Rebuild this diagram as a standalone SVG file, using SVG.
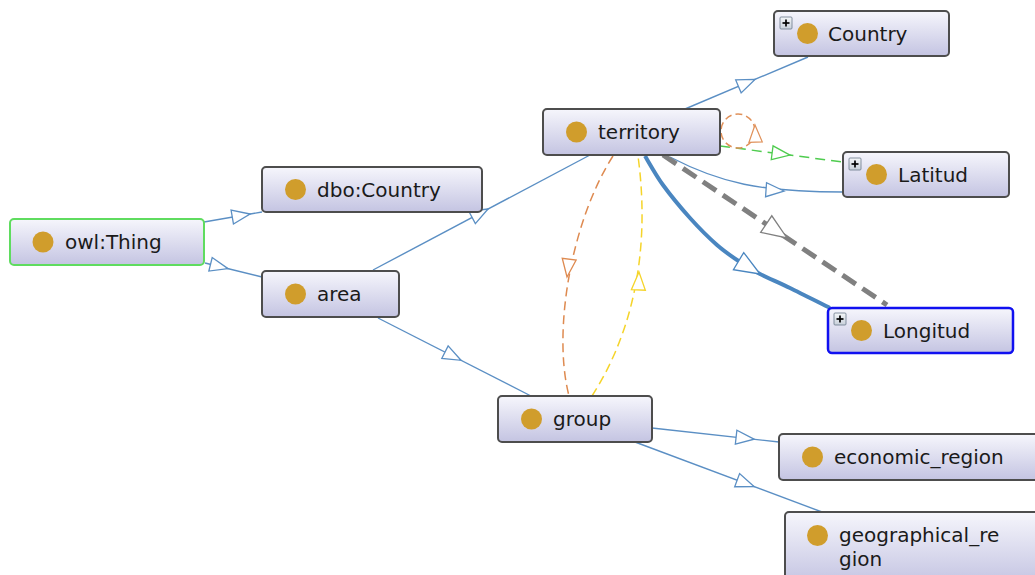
<svg xmlns="http://www.w3.org/2000/svg" xmlns:xlink="http://www.w3.org/1999/xlink" width="1035" height="575" viewBox="0 0 1035 575">
<style>
.box{fill:url(#ng);stroke:#4d4d4d;stroke-width:2}
.dot{fill:#d09d2c}
.lbl{font-family:"DejaVu Sans",sans-serif;font-size:20px;fill:#1a1a1a}
.e{fill:none;stroke:#5b8fc4;stroke-width:1.4}
.ah{fill:#ffffff;stroke-width:1.3}
.pb{fill:url(#pg);stroke:#6a7a8a;stroke-width:0.8}
.pl{stroke:#000;stroke-width:1.7}
</style>
<defs>
<linearGradient id="ng" x1="0" y1="0" x2="0" y2="1">
<stop offset="0" stop-color="#f6f6fc"/>
<stop offset="1" stop-color="#c4c4e2"/>
</linearGradient>
<linearGradient id="pg" x1="0" y1="0" x2="0" y2="1">
<stop offset="0" stop-color="#f4f6f8"/>
<stop offset="1" stop-color="#c8d0da"/>
</linearGradient>
<path id="tri" d="M0,0 L-18,-7 L-18,7 Z"/>
<path id="trib" d="M0,0 L-25,-10 L-25,10 Z"/>
<g id="plus">
<rect class="pb" x="0" y="0" width="12" height="12" rx="1"/>
<line class="pl" x1="2.5" y1="6" x2="9.5" y2="6"/>
<line class="pl" x1="6" y1="2.5" x2="6" y2="9.5"/>
</g>
</defs>
<rect width="1035" height="575" fill="#ffffff"/>

<g id="connectors">
<!-- owl:Thing -> dbo:Country -->
<line class="e" x1="204" y1="222" x2="262" y2="212"/>
<use xlink:href="#tri" class="ah" stroke="#5b8fc4" transform="translate(250,214) rotate(-9.8)"/>
<!-- owl:Thing -> area -->
<line class="e" x1="205" y1="263" x2="262" y2="277"/>
<use xlink:href="#tri" class="ah" stroke="#5b8fc4" transform="translate(228,268.6) rotate(13.8)"/>
<!-- area -> territory -->
<line class="e" x1="373" y1="270" x2="590" y2="155"/>
<use xlink:href="#tri" class="ah" stroke="#5b8fc4" transform="translate(488,209) rotate(-27.9)"/>
<!-- territory -> Country -->
<line class="e" x1="685" y1="109" x2="808" y2="57"/>
<use xlink:href="#tri" class="ah" stroke="#5b8fc4" transform="translate(755,79.4) rotate(-22.9)"/>
<!-- territory -> Latitud (curve) -->
<path class="e" d="M670,157 C720,183 760,192 843,192"/>
<use xlink:href="#tri" class="ah" stroke="#5b8fc4" transform="translate(784,191) rotate(4)"/>
<!-- green dashed territory -> Latitud -->
<line x1="720" y1="146" x2="843" y2="162" fill="none" stroke="#4fcc4f" stroke-width="1.5" stroke-dasharray="10,6"/>
<use xlink:href="#tri" class="ah" stroke="#4fcc4f" transform="translate(790,155.1) rotate(7.4)"/>
<!-- orange self loop -->
<circle cx="738" cy="131" r="17" fill="none" stroke="#e0915a" stroke-width="1.5" stroke-dasharray="7,4"/>
<use xlink:href="#tri" class="ah" stroke="#e0915a" transform="translate(755,125) rotate(-92) scale(0.95)"/>
<!-- orange dashed territory -> group -->
<path d="M613,156 C572,220 552,330 569,396" fill="none" stroke="#de8a50" stroke-width="1.5" stroke-dasharray="9,5"/>
<use xlink:href="#tri" class="ah" stroke="#de8a50" transform="translate(567,277) rotate(97)"/>
<!-- yellow dashed group -> territory -->
<path d="M592,396 C628,340 652,260 638,156" fill="none" stroke="#f5d42a" stroke-width="1.5" stroke-dasharray="9,5"/>
<use xlink:href="#tri" class="ah" stroke="#f5d42a" transform="translate(639,272) rotate(-88)"/>
<!-- thick blue territory -> Longitud -->
<path d="M645,156 C648,160.8 655.5,174.7 663,185 C670.5,195.3 681,208 690,218 C699,228 708.7,237.7 717,245 C725.3,252.3 732.8,257.2 740,262 C747.2,266.8 751.7,269.7 760,274 C768.3,278.3 778.3,282.3 790,288 C801.7,293.7 823.3,304.7 830,308" fill="none" stroke="#4a86c0" stroke-width="4"/>
<use xlink:href="#trib" class="ah" stroke="#4a86c0" transform="translate(760,274) rotate(31)"/>
<!-- gray dashed territory -> Longitud -->
<line x1="663" y1="155" x2="887" y2="305" fill="none" stroke="#808080" stroke-width="5" stroke-dasharray="16,8"/>
<use xlink:href="#trib" class="ah" stroke="#808080" transform="translate(787,238) rotate(33.8)"/>
<!-- area -> group -->
<line class="e" x1="378" y1="318" x2="531" y2="396"/>
<use xlink:href="#tri" class="ah" stroke="#5b8fc4" transform="translate(461,360.3) rotate(27)"/>
<!-- group -> economic_region -->
<line class="e" x1="652" y1="428" x2="779" y2="442"/>
<use xlink:href="#tri" class="ah" stroke="#5b8fc4" transform="translate(754,439.2) rotate(6.3)"/>
<!-- group -> geographical_region -->
<line class="e" x1="635" y1="442" x2="822" y2="512"/>
<use xlink:href="#tri" class="ah" stroke="#5b8fc4" transform="translate(754,486.5) rotate(20.5)"/>
</g>

<g id="owl-thing">
<rect class="box" x="10" y="219" width="194" height="46" rx="4" style="stroke:#5fdc5f"/>
<circle class="dot" cx="43" cy="242" r="10.5"/>
<text class="lbl" x="65" y="249">owl:Thing</text>
</g>
<g id="dbo-country">
<rect class="box" x="262" y="167" width="220" height="45" rx="4"/>
<circle class="dot" cx="295.5" cy="189.5" r="10.5"/>
<text class="lbl" x="317" y="196.5">dbo:Country</text>
</g>
<g id="area">
<rect class="box" x="262" y="271" width="137" height="46" rx="4"/>
<circle class="dot" cx="295.5" cy="294" r="10.5"/>
<text class="lbl" x="317" y="301">area</text>
</g>
<g id="territory">
<rect class="box" x="543" y="109" width="177" height="46" rx="4"/>
<circle class="dot" cx="576.5" cy="132" r="10.5"/>
<text class="lbl" x="598" y="139">territory</text>
</g>
<g id="country">
<rect class="box" x="774" y="11" width="175" height="45" rx="4"/>
<use xlink:href="#plus" x="780" y="17"/>
<circle class="dot" cx="807.5" cy="33.5" r="10.5"/>
<text class="lbl" x="828" y="40.5">Country</text>
</g>
<g id="latitud">
<rect class="box" x="843" y="152" width="166" height="45" rx="4"/>
<use xlink:href="#plus" x="849" y="158"/>
<circle class="dot" cx="876.5" cy="174.5" r="10.5"/>
<text class="lbl" x="898" y="181.5">Latitud</text>
</g>
<g id="longitud">
<rect class="box" x="828" y="308" width="185" height="45" rx="4" style="stroke:#1010f0;stroke-width:2.5"/>
<use xlink:href="#plus" x="834" y="313"/>
<circle class="dot" cx="861.5" cy="330.5" r="10.5"/>
<text class="lbl" x="883" y="337.5">Longitud</text>
</g>
<g id="group">
<rect class="box" x="498" y="396" width="154" height="46" rx="4"/>
<circle class="dot" cx="531.5" cy="419" r="10.5"/>
<text class="lbl" x="553" y="426">group</text>
</g>
<g id="economic-region">
<rect class="box" x="779" y="434" width="262" height="46" rx="4"/>
<circle class="dot" cx="812.5" cy="457" r="10.5"/>
<text class="lbl" x="834" y="464">economic_region</text>
</g>
<g id="geographical-region">
<rect class="box" x="785" y="512" width="256" height="72" rx="4"/>
<circle class="dot" cx="817.5" cy="535.5" r="10.5"/>
<text class="lbl" x="839" y="542">geographical_re</text>
<text class="lbl" x="839" y="566">gion</text>
</g>
</svg>
